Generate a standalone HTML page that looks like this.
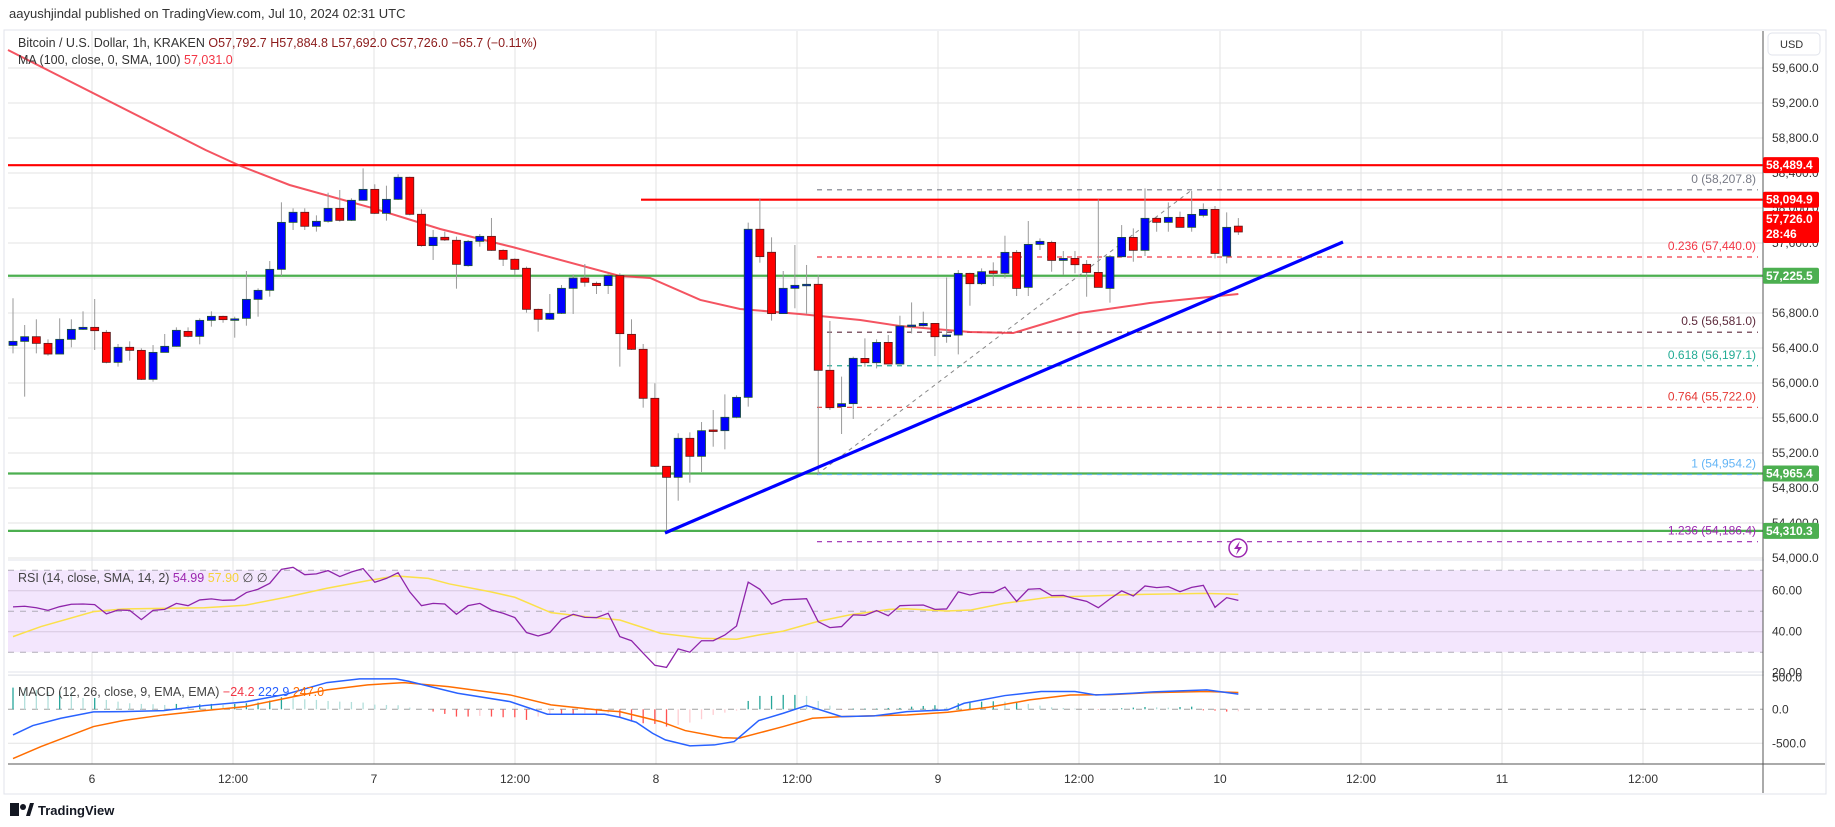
<!DOCTYPE html>
<html><head><meta charset="utf-8">
<style>
body{margin:0;background:#fff;width:1835px;height:827px;overflow:hidden;font-family:"Liberation Sans",sans-serif;}
svg{display:block}
</style></head>
<body>
<svg id="chart" width="1835" height="827" xmlns="http://www.w3.org/2000/svg" font-family="Liberation Sans, sans-serif"></svg>
<script>
// ===== DATA =====
const opens=[56430,56476,56529,56453,56331,56499,56613,56636,56579,56236,56408,56373,56042,56350,56419,56590,56533,56716,56762,56731,56739,56956,57059,57299,57836,57951,57791,57848,57996,57859,58088,58213,57939,58099,58351,57928,57570,57665,57631,57341,57619,57676,57516,57414,57311,56842,56728,56796,57082,57200,57139,57113,57227,56556,56385,55825,55048,54922,55368,55162,55463,55455,55608,55836,57757,57494,56793,57082,57116,57128,56145,55730,55764,56281,56232,56464,56217,56655,56655,56681,56533,56548,57253,57135,57280,57253,57493,57093,57584,57607,57401,57424,57356,57264,57081,57443,57664,57516,57882,57836,57893,57779,57916,57984,57451,57792.7];
const closes=[56476,56529,56453,56331,56499,56613,56636,56598,56236,56408,56373,56042,56350,56419,56602,56533,56716,56762,56724,56733,56956,57059,57299,57836,57951,57791,57848,57996,57859,58088,58213,57939,58099,58351,57928,57570,57665,57635,57356,57619,57676,57516,57414,57299,56842,56728,56796,57082,57200,57151,57113,57227,56564,56385,55825,55048,54922,55368,55162,55455,55455,55608,55836,57757,57444,56793,57082,57116,57128,56145,55718,55764,56282,56232,56464,56217,56651,56662,56681,56529,56548,57253,57135,57272,57253,57493,57081,57584,57619,57401,57424,57352,57264,57093,57443,57664,57516,57882,57836,57893,57779,57927,57984,57481,57779,57726];
const highs=[56968,56663,56728,56499,56739,56728,56819,56960,56606,56446,56476,56396,56434,56560,56636,56636,56739,56819,56769,56758,57280,57082,57394,58065,57996,57996,57916,58175,58206,58111,58453,58271,58255,58385,58358,57985,57749,57730,57673,57635,57703,57886,57528,57425,57330,56850,57017,57120,57242,57360,57158,57254,57254,56728,56446,55996,55048,55425,55436,55554,55691,55870,55859,57833,58111,57665,57280,57577,57349,57235,56709,56073,56301,56510,56499,56548,56769,56921,56815,56681,57207,57291,57260,57310,57379,57683,57520,57851,57653,57626,57508,57508,57405,58099,57463,57805,57767,58224,57901,58064,57958,58194,58053,58023,57950,57884.8];
const lows=[56339,55844,56339,56312,56331,56408,56606,56377,56225,56187,56255,56034,56015,56350,56415,56522,56442,56644,56689,56518,56655,56758,56987,57223,57749,57749,57730,57832,57844,57851,58084,57931,57855,58092,57916,57558,57406,57623,57078,57330,57558,57510,57337,57235,56804,56587,56720,56789,56789,57101,57017,57017,56187,56377,55718,55040,54282,54655,54861,54983,55272,55242,55597,55730,57375,56713,56793,56854,56789,54968,55692,55417,55589,56186,56167,56213,56213,56567,56643,56308,56460,56327,56883,57120,57108,57196,56994,56994,57520,57272,57234,57253,56986,57093,56918,57436,57386,57451,57729,57729,57779,57729,57893,57424,57367,57692];
const maIdx=[-1.1,16.5,19.5,23.7,30.8,36.6,42.8,52,54.6,58.9,62.3,67.4,72.6,76,82,85.7,91.4,97.4,105];
const maVal=[59806,58663,58480,58263,57999,57760,57554,57223,57200,56949,56846,56789,56720,56651,56583,56571,56800,56914,57017];
const rsi=[52.1,52.4,51.7,50.4,52.2,53.4,53.5,53.2,48.7,50.6,50.4,45.9,50.4,50.9,53.8,52.7,55.5,56.0,55.3,55.5,59.1,60.7,63.6,70.4,71.4,67.8,68.2,69.8,66.9,69.1,70.8,64.1,66.0,68.8,59.4,52.7,53.8,53.5,48.5,52.7,53.8,50.6,49.0,46.9,39.6,37.9,39.6,46.0,48.5,47.0,46.9,49.0,37.6,35.6,29.5,23.6,22.6,31.6,30.0,35.6,35.6,38.4,42.8,64.2,60.7,53.4,55.6,55.8,56.1,44.9,42.0,42.5,48.2,48.0,50.3,47.8,52.7,52.9,53.0,50.9,51.1,59.4,57.9,59.2,59.1,61.8,54.8,60.7,61.0,57.6,57.7,56.1,54.8,51.7,56.0,59.9,57.4,62.3,61.5,62.0,59.5,61.6,62.6,51.9,56.6,55.3];
const rsiMaIdx=[0,2.4,6.9,9.4,16.4,19.9,23.4,26.9,30.4,32.8,35.6,37.4,40.9,43,46.1,49.6,52,55.5,59,62,63.9,66,68.9,71.7,75.1,76.5,80,82.1,84.9,88.8,92.3,95.8,102.1,105];
const rsiMaVal=[37.6,42.5,49.8,51.1,51.7,52.9,56.8,61.2,64.9,67.2,66.0,63.3,59.5,56.8,49.3,47.0,45.7,39.2,36.8,36.3,38.4,40.3,44.9,48.2,50.9,51.2,50.1,50.6,53.8,56.8,57.4,58.1,58.7,58.2];
const macdIdx=[0,1.7,4.1,6.9,9.4,12.9,16.4,19.9,23.4,26.9,29.7,32.8,33.9,38.1,42.6,45.8,50.7,52,53.4,54.8,55.9,58,60.1,61.8,63.9,66,68,71,73.8,76.6,80.1,81.5,85,88.1,91,92.8,95.9,97.7,102.3,105];
const macdVal=[-377,-239,-132,-38,-34,-19,55,109,221,393,447,447,412,236,113,-73,-73,-117,-190,-352,-450,-538,-524,-475,-166,-58,55,-107,-97,-34,-9,89,202,261,261,211,236,256,285,223];
const sigIdx=[0,2.4,6.9,9.4,12.9,16.4,19.9,23.4,26.9,30.4,33.5,37.3,42.6,46.1,50.7,52,55.5,57.6,60.8,62.2,66,68.5,71,76.6,80.1,83.6,87.1,90.6,94.1,97.6,102.2,105];
const sigVal=[-724,-548,-254,-166,-83,-19,40,163,285,359,393,334,211,65,-19,-34,-181,-313,-416,-426,-254,-132,-107,-83,-43,30,138,211,216,246,261,247];
const hist=[319,310,285,261,261,251,167,167,138,113,89,79,74,64,79,60,74,79,64,79,89,99,128,177,162,147,138,123,113,108,99,69,64,60,25,5,-34,-68,-107,-107,-97,-107,-117,-117,-156,-107,-68,-68,-68,-58,-68,-58,-117,-181,-205,-215,-254,-230,-195,-146,-83,-49,-20,123,197,197,212,212,197,123,54,-5,10,10,10,20,20,39,49,60,29,89,99,113,118,113,113,79,54,29,20,10,5,-5,5,15,25,34,29,25,34,39,-15,-20,-34,-29];
const priceTicks=[59600,59200,58800,58400,58000,57600,57200,56800,56400,56000,55600,55200,54800,54400,54000];
const timeHours=[0,12,24,36,48,60,72,84,96,108,120,132];
const timeLabels=["6","12:00","7","12:00","8","12:00","9","12:00","10","12:00","11","12:00"];
const fibRatios=["0","0.236","0.5","0.618","0.764","1","1.236"];
const fibPrices=[58207.8,57440.0,56581.0,56197.1,55722.0,54954.2,54186.4];
const fibColors=["#787b86","#f23645","#5d2a3c","#22ab94","#e53935","#64b5f6","#9c27b0"];
const resistances=[58489.4,58094.9];
const supports=[57225.5,54965.4,54310.3];

// ===== AXES =====
const yP=p=>313-(p-56800)*0.0875;
const yR=v=>631.7-(v-40)*2.05;
const yM=v=>709.3-v*0.068;
const xC=i=>13+i*11.67;
const xT=h=>92+h*11.75;
const L=8,R=1763;

const svg=document.getElementById('chart');
const NS='http://www.w3.org/2000/svg';
function mk(tag,attrs,parent){const e=document.createElementNS(NS,tag);for(const k in attrs)e.setAttribute(k,attrs[k]);(parent||svg).appendChild(e);return e;}
function txt(s,attrs,parent){const e=mk('text',attrs,parent);e.textContent=s;return e;}
const fmt=v=>v.toLocaleString('en-US',{minimumFractionDigits:1,maximumFractionDigits:1});

// frame
let g=mk('g',{});


mk('rect',{x:4,y:30,width:1822,height:764,fill:'none',stroke:'#e0e3eb'},g);

// grid
g=mk('g',{});


priceTicks.forEach(p=>mk('line',{x1:L,x2:R,y1:yP(p),y2:yP(p),stroke:'#e3e3e3'},g));
timeHours.forEach(h=>{if(xT(h)<R)mk('line',{x1:xT(h),x2:xT(h),y1:31,y2:764,stroke:'#e3e3e3'},g);});
[-500,500].forEach(v=>mk('line',{x1:L,x2:R,y1:yM(v),y2:yM(v),stroke:'#e3e3e3'},g));

// RSI background
g=mk('g',{});


mk('rect',{x:L,y:yR(70),width:R-L,height:yR(30)-yR(70),fill:'#f3e6fd'},g);
[60,40].forEach(v=>mk('line',{x1:L,x2:R,y1:yR(v),y2:yR(v),stroke:'#d7c8e0'},g));
[70,50,30].forEach(v=>mk('line',{x1:L,x2:R,y1:yR(v),y2:yR(v),stroke:'#b0abb8','stroke-dasharray':'6 6'},g));
mk('line',{x1:L,x2:1825,y1:560,y2:560,stroke:'#e0e3eb'});
mk('line',{x1:L,x2:1825,y1:672,y2:672,stroke:'#e0e3eb'});
mk('line',{x1:L,x2:1825,y1:675,y2:675,stroke:'#e0e3eb'});
mk('line',{x1:L,x2:R,y1:yM(0),y2:yM(0),stroke:'#a0a0a0','stroke-dasharray':'6 6'});

// horizontal S/R lines
resistances.forEach((p,k)=>{const l=mk('line',{x1:k===0?L:641,x2:R,y1:yP(p),y2:yP(p),stroke:'#ff0000','stroke-width':2.2});

});
supports.forEach(p=>{const l=mk('line',{x1:L,x2:R,y1:yP(p),y2:yP(p),stroke:'#4caf50','stroke-width':2.2});

});

// fib
g=mk('g',{});


fibPrices.forEach((p,k)=>{
  mk('line',{x1:817,x2:1758,y1:yP(p),y2:yP(p),stroke:fibColors[k],'stroke-dasharray':'5 5','stroke-width':1.2},g);
  const t=txt(fibRatios[k]+' ('+fmt(p)+')',{x:1756,y:yP(p)-7,'text-anchor':'end','font-size':12,fill:fibColors[k]},g);
  
  
});
mk('line',{x1:817,y1:yP(fibPrices[5]),x2:1192,y2:yP(fibPrices[0]),stroke:'#888','stroke-dasharray':'4 4'},g);

// MA
let pts=maIdx.map((i,k)=>Math.max(L,xC(i))+','+yP(maVal[k])).join(' ');
let pl=mk('polyline',{points:pts,fill:'none',stroke:'#f23645','stroke-width':2,'stroke-opacity':0.85});



// candles
g=mk('g',{});


opens.forEach((o,i)=>{
  const c=closes[i],x=xC(i),up=c>=o;
  mk('line',{x1:x,x2:x,y1:yP(highs[i]),y2:yP(lows[i]),stroke:'#9a9a9a'},g);
  const top=yP(Math.max(o,c)),bot=yP(Math.min(o,c));
  const r=mk('rect',{x:x-4,y:top,width:8,height:Math.max(1.5,bot-top),fill:up?'#0000ff':'#ff0000',stroke:up?'#1e5631':'#5a1a1a','stroke-width':0.8},g);
  
  
});

// trendline
let tl=mk('line',{x1:665,y1:533,x2:1343,y2:242,stroke:'#0000ff','stroke-width':3.2});



// lightning icon
g=mk('g',{});


mk('circle',{cx:1238,cy:548,r:9,fill:'#fff',stroke:'#9c27b0','stroke-width':1.5},g);
mk('path',{d:'M1240 541 L1234 549 L1238 549 L1236 555 L1242 547 L1238 547 Z',fill:'#9c27b0'},g);

// RSI lines
pl=mk('polyline',{points:rsiMaIdx.map((i,k)=>xC(i)+','+yR(rsiMaVal[k])).join(' '),fill:'none',stroke:'#fbe04a','stroke-width':1.5});


pl=mk('polyline',{points:rsi.map((v,i)=>xC(i)+','+yR(v)).join(' '),fill:'none',stroke:'#8e24aa','stroke-width':1.3});



// MACD hist
g=mk('g',{});


hist.forEach((v,i)=>{
  const prev=i>0?hist[i-1]:v;
  const col=v>=0?(v>=prev?'#26a69a':'#b2dfdb'):(v<=prev?'#ff5252':'#ffcdd2');
  mk('line',{x1:xC(i),x2:xC(i),y1:yM(0),y2:yM(v),stroke:col,'stroke-width':1.3},g);
});
pl=mk('polyline',{points:sigIdx.map((i,k)=>xC(i)+','+yM(sigVal[k])).join(' '),fill:'none',stroke:'#ff6d00','stroke-width':1.5});


pl=mk('polyline',{points:macdIdx.map((i,k)=>xC(i)+','+yM(macdVal[k])).join(' '),fill:'none',stroke:'#2962ff','stroke-width':1.5});



// right axis
mk('rect',{x:R+1,y:31,width:61,height:762,fill:'#fff'});
mk('line',{x1:R,x2:R,y1:31,y2:793,stroke:'#555'});
mk('line',{x1:L,x2:1825,y1:764,y2:764,stroke:'#555'});
g=mk('g',{});


priceTicks.forEach(p=>txt(p.toLocaleString('en-US')+'.0',{x:1772,y:yP(p)+4,'font-size':12,fill:'#333'},g));
const r0=mk('rect',{x:1768,y:33,width:52,height:22,rx:4,fill:'#fff',stroke:'#e0e3eb'});


txt('USD',{x:1780,y:48,'font-size':11,fill:'#333'});
[['60.00',yR(60)],['40.00',yR(40)],['20.00',yR(20)],['500.0',yM(500)+2],['0.0',yM(0)],['-500.0',yM(-500)]].forEach(a=>txt(a[0],{x:1772,y:a[1]+4,'font-size':12,fill:'#333'},g));
function box(y,h,col,lines,name){
  const b=mk('g',{});
  
  
  mk('rect',{x:R,y:y-8,width:56,height:h,rx:2,fill:col},b);
  lines.forEach((s,k)=>txt(s,{x:1766,y:y+4+k*15,'font-size':12,'font-weight':'bold',fill:'#fff'},b));
}
box(yP(58489.4),16,'#ff0000',['58,489.4'],'resistance-price-tag');
box(yP(58094.9),16,'#ff0000',['58,094.9'],'resistance-price-tag');
box(219,32,'#ff0000',['57,726.0','28:46'],'last-price-tag');
box(yP(57225.5),16,'#4caf50',['57,225.5'],'support-price-tag');
box(yP(54965.4),16,'#4caf50',['54,965.4'],'support-price-tag');
box(yP(54310.3),16,'#4caf50',['54,310.3'],'support-price-tag');

// time axis
g=mk('g',{});


timeHours.forEach((h,k)=>txt(timeLabels[k],{x:xT(h),y:783,'text-anchor':'middle','font-size':12,fill:'#333'},g));

// legends
const lg=mk('g',{});


txt('aayushjindal published on TradingView.com, Jul 10, 2024 02:31 UTC',{x:9,y:18,'font-size':13,fill:'#333'},lg);
let t=txt('',{x:18,y:47,'font-size':12.5,fill:'#333'},lg);
t.innerHTML='Bitcoin / U.S. Dollar, 1h, KRAKEN  <tspan fill="#8b1a1a">O57,792.7  H57,884.8  L57,692.0  C57,726.0  −65.7 (−0.11%)</tspan>';
t.setAttribute('xml:space','preserve');
t=txt('',{x:18,y:64,'font-size':12.5,fill:'#333'},lg);
t.innerHTML='MA (100, close, 0, SMA, 100)  <tspan fill="#f23645">57,031.0</tspan>';
t.setAttribute('xml:space','preserve');
t=txt('',{x:18,y:582,'font-size':12.5,fill:'#444'},lg);
t.innerHTML='RSI (14, close, SMA, 14, 2)  <tspan fill="#9c27b0">54.99</tspan>  <tspan fill="#f5d33a">57.90</tspan>  ∅  ∅';
t.setAttribute('xml:space','preserve');
t=txt('',{x:18,y:696,'font-size':12.5,fill:'#444'},lg);
t.innerHTML='MACD (12, 26, close, 9, EMA, EMA)  <tspan fill="#f23645">−24.2</tspan>  <tspan fill="#2962ff">222.9</tspan>  <tspan fill="#ff6d00">247.0</tspan>';
t.setAttribute('xml:space','preserve');

// logo
const lo=mk('g',{});


mk('rect',{x:10,y:803,width:9,height:13,fill:'#131722'},lo);
mk('circle',{cx:23,cy:807,r:3,fill:'#131722'},lo);
mk('path',{d:'M26 816 L30 803 L34 803 L30 816 Z',fill:'#131722'},lo);
txt('TradingView',{x:38,y:815,'font-size':13,'font-weight':'bold',fill:'#131722'},lo);
</script>
</body></html>
